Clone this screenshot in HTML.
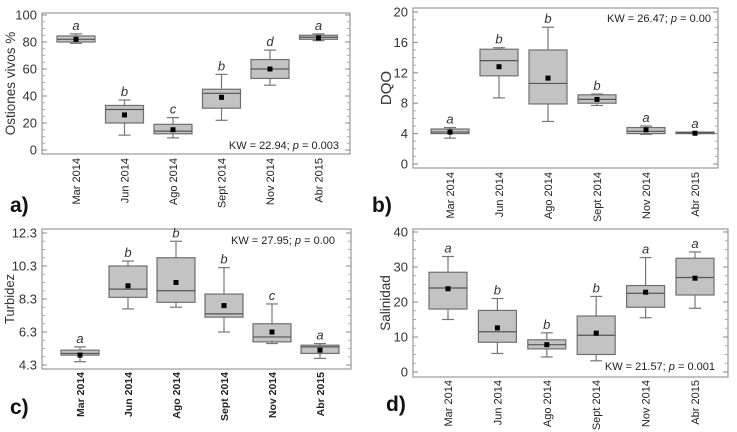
<!DOCTYPE html>
<html><head><meta charset="utf-8"><style>
body{margin:0;background:#fff;}
svg{display:block;font-family:"Liberation Sans",Arial,sans-serif;}
</style></head><body>
<svg id="chart" width="737" height="432" viewBox="0 0 737 432"></svg>
<script>
const categories = ["Mar 2014","Jun 2014","Ago 2014","Sept 2014","Nov 2014","Abr 2015"];
// panel a: Ostiones vivos %
const aWhiskLow=[79,11,9,22,48,81], aQ1=[80,20,12,31,53,82], aMed=[82,30,14,42,60,83.5], aQ3=[84.5,33,19,45,67,85], aWhiskHigh=[86,37,24,56,74,86], aMean=[82,26,15,39,60,83];
const aLetters=["a","b","c","b","d","a"], aTicks=[0,20,40,60,80,100];
// panel b: DQO
const bWhiskLow=[3.4,8.7,5.6,7.7,3.9,4.0], bQ1=[4.0,11.6,7.9,8.0,4.0,4.0], bMed=[4.2,13.6,10.6,8.5,4.3,4.1], bQ3=[4.6,15.1,15.0,9.1,4.8,4.2], bWhiskHigh=[4.8,15.3,18.0,9.2,5.0,4.2], bMean=[4.2,12.8,11.3,8.5,4.5,4.05];
const bLetters=["a","b","b","b","a","a"], bTicks=[0,4,8,12,16,20];
// panel c: Turbidez
const cWhiskLow=[4.5,7.7,7.8,6.3,5.6,4.7], cQ1=[4.9,8.4,8.1,7.2,5.7,5.0], cMed=[5.0,8.9,8.8,7.4,6.0,5.4], cQ3=[5.2,10.3,10.8,8.6,6.8,5.5], cWhiskHigh=[5.4,10.6,11.8,10.2,8.0,5.6], cMean=[4.9,9.1,9.3,7.9,6.3,5.2];
const cLetters=["a","b","b","b","c","a"], cTicks=[4.3,6.3,8.3,10.3,12.3];
// panel d: Salinidad
const dWhiskLow=[15,5.3,4.3,3.2,15.5,18.2], dQ1=[18,8.5,6.6,5,18.5,22], dMed=[24,11.5,7.8,10.5,22.5,27], dQ3=[28.5,17.6,9.2,16,24.7,32.5], dWhiskHigh=[33,21,11.2,21.6,32.7,34.3], dMean=[23.8,12.6,7.8,11.1,22.8,26.8];
const dLetters=["a","b","b","b","a","a"], dTicks=[0,10,20,30,40];

const NS="http://www.w3.org/2000/svg";
const svg=document.getElementById('chart');
function mk(tag,attrs,parent,text){const e=document.createElementNS(NS,tag);for(const k in attrs)e.setAttribute(k,attrs[k]);if(text!==undefined)e.textContent=text;(parent||svg).appendChild(e);return e;}

function panel(o){
  const g=mk('g',{});
  
  
  if(o.bg){mk('rect',{x:o.bg[0],y:o.bg[1],width:o.bg[2],height:o.bg[3],fill:'#fff'},g);}
  const yy=v=>o.y0+(v-o.v0)*(o.y1-o.y0)/(o.v1-o.v0);
  const x=i=>o.cx0+i*o.step;
  const fr=mk('rect',{x:o.fx0,y:o.fy0,width:o.fx1-o.fx0,height:o.fy1-o.fy0,fill:'none',stroke:'#999','stroke-width':1.2},g);
  
  
  const tks=o.ticks;
  for(let k=0;k<tks.length;k++){
    const ty=yy(tks[k]);
    mk('line',{x1:o.fx0,x2:o.fx0+5,y1:ty,y2:ty,stroke:'#888'},g);
    mk('line',{x1:o.fx1,x2:o.fx1-5,y1:ty,y2:ty,stroke:'#888'},g);
    const t=mk('text',{x:o.fx0-5,y:ty+4.5,'text-anchor':'end','font-size':13,fill:'#333'},g,o.fmt(tks[k]));
    
    
    if(k<tks.length-1){for(let m=1;m<4;m++){const my=yy(tks[k]+(tks[k+1]-tks[k])*m/4);
      mk('line',{x1:o.fx0,x2:o.fx0+3,y1:my,y2:my,stroke:'#aaa'},g);
      mk('line',{x1:o.fx1,x2:o.fx1-3,y1:my,y2:my,stroke:'#aaa'},g);}}
  }
  const yl=mk('text',{x:0,y:0,transform:`translate(${o.ylx},${(o.fy0+o.fy1)/2}) rotate(-90)`,'text-anchor':'middle','font-size':o.ylfs||14,fill:'#333'},g,o.ylabel);
  
  
  const bw=38,cw=12;
  for(let i=0;i<categories.length;i++){
    const cx=x(i);
    const bg=mk('g',{},g);
    
    
    mk('line',{x1:cx,x2:cx,y1:yy(o.lo[i]),y2:yy(o.q1[i]),stroke:'#777','stroke-width':1.2},bg);
    mk('line',{x1:cx,x2:cx,y1:yy(o.q3[i]),y2:yy(o.hi[i]),stroke:'#777','stroke-width':1.2},bg);
    mk('line',{x1:cx-cw/2,x2:cx+cw/2,y1:yy(o.lo[i]),y2:yy(o.lo[i]),stroke:'#777','stroke-width':1.2},bg);
    mk('line',{x1:cx-cw/2,x2:cx+cw/2,y1:yy(o.hi[i]),y2:yy(o.hi[i]),stroke:'#777','stroke-width':1.2},bg);
    mk('rect',{x:cx-bw/2,y:yy(o.q3[i]),width:bw,height:Math.max(1,yy(o.q1[i])-yy(o.q3[i])),fill:'#c3c3c3',stroke:'#6f6f6f','stroke-width':1.2},bg);
    mk('line',{x1:cx-bw/2,x2:cx+bw/2,y1:yy(o.med[i]),y2:yy(o.med[i]),stroke:'#555','stroke-width':1.2},bg);
    mk('rect',{x:cx-2.5,y:yy(o.mean[i])-2.5,width:5,height:5,fill:'#000'},bg);
    const lt=mk('text',{x:cx,y:yy(o.hi[i])-4,'text-anchor':'middle','font-size':13,'font-style':'italic',fill:'#333'},g,o.letters[i]);
    
    
    const cl=mk('text',{x:0,y:0,transform:`translate(${cx+4},${o.cly}) rotate(-90)`,'text-anchor':'end','font-size':o.bold?10.5:11,'font-weight':o.bold?'bold':'normal',fill:'#222'},g,categories[i]);
    
    
  }
  const kw=mk('text',{x:o.kwx,y:o.kwy,'text-anchor':'end','font-size':11,fill:'#222'},g);
  
  
  mk('tspan',{},kw,o.kw1);mk('tspan',{'font-style':'italic'},kw,'p');mk('tspan',{},kw,o.kw2);
  const pl=mk('text',{x:o.plx,y:o.ply,'font-size':21,'font-weight':'bold',fill:'#111'},g,o.plabel);
  
  
}
const f0=v=>String(v), f1=v=>v.toFixed(1);
panel({name:'panel-a',fx0:42,fx1:350,fy0:13,fy1:154,v0:0,v1:100,y0:150,y1:15,cx0:76,step:48.5,ticks:aTicks,fmt:f0,
 lo:aWhiskLow,q1:aQ1,med:aMed,q3:aQ3,hi:aWhiskHigh,mean:aMean,letters:aLetters,ylabel:'Ostiones vivos %',ylx:15,ylfs:13.5,
 cly:158,kwx:339,kwy:149,kw1:'KW = 22.94; ',kw2:' = 0.003',plabel:'a)',plx:10,ply:212});
panel({name:'panel-b',fx0:413,fx1:718,fy0:8,fy1:168,v0:0,v1:20,y0:164,y1:12,cx0:450,step:49,ticks:bTicks,fmt:f0,
 lo:bWhiskLow,q1:bQ1,med:bMed,q3:bQ3,hi:bWhiskHigh,mean:bMean,letters:bLetters,ylabel:'DQO',ylx:391,ylfs:15,
 cly:172,kwx:711,kwy:22,kw1:'KW = 26.47; ',kw2:' = 0.00',plabel:'b)',plx:372,ply:212});
panel({name:'panel-c',fx0:42,fx1:351,fy0:229,fy1:369,v0:4.3,v1:12.3,y0:365,y1:233,cx0:80,step:48,ticks:cTicks,fmt:f1,
 lo:cWhiskLow,q1:cQ1,med:cMed,q3:cQ3,hi:cWhiskHigh,mean:cMean,letters:cLetters,ylabel:'Turbidez',ylx:14,ylfs:13,bold:true,
 cly:372,kwx:335,kwy:244,kw1:'KW = 27.95; ',kw2:' = 0.00',plabel:'c)',plx:10,ply:414});
panel({name:'panel-d',bg:[370,221,367,211],fx0:413,fx1:728,fy0:229,fy1:377,v0:0,v1:40,y0:372,y1:232,cx0:448,step:49.4,ticks:dTicks,fmt:f0,
 lo:dWhiskLow,q1:dQ1,med:dMed,q3:dQ3,hi:dWhiskHigh,mean:dMean,letters:dLetters,ylabel:'Salinidad',ylx:390,ylfs:13.5,
 cly:380,kwx:715,kwy:370,kw1:'KW = 21.57; ',kw2:' = 0.001',plabel:'d)',plx:386,ply:411});
</script>
</body></html>
